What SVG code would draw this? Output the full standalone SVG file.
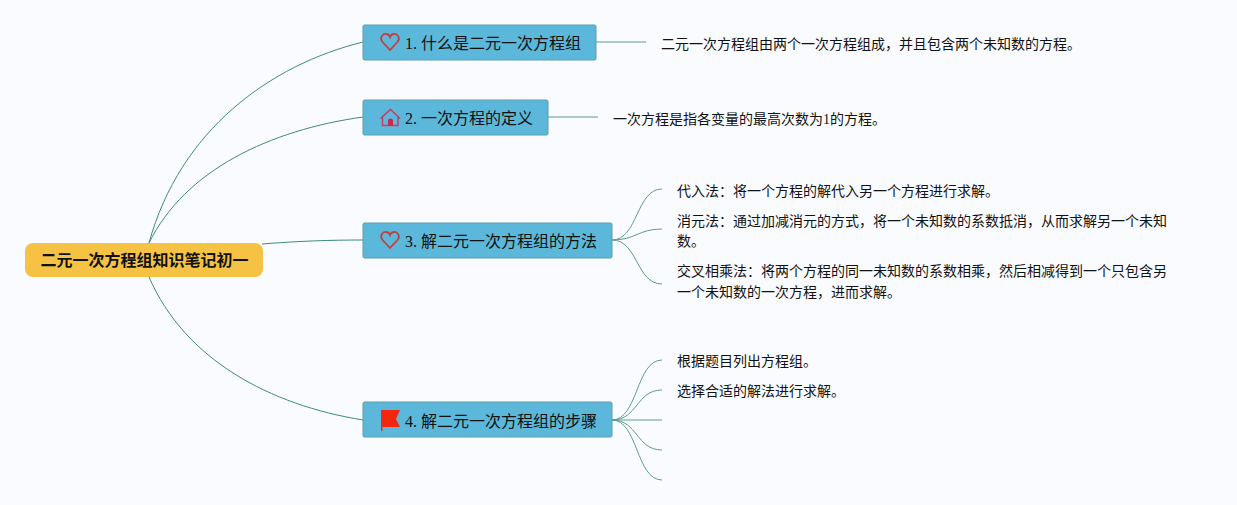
<svg xmlns="http://www.w3.org/2000/svg" width="1237" height="505" viewBox="0 0 1237 505">
<style>
text{font-family:"Liberation Serif","Noto Sans CJK SC",serif;fill:#111}
.root{font-size:16px;font-weight:700}
.branch{font-size:16px}
.leaf{font-size:14px}
.box{fill:#5cb8da;stroke:#5f9ea6;stroke-width:1}
.c{fill:none;stroke:#3f8a7c;stroke-width:1}
.l{fill:none;stroke:#5f9c90;stroke-width:1}
.heart{fill:none;stroke:#c23f3f;stroke-width:1.8}
</style>
<rect width="1237" height="505" fill="#f9fbff"/>
<g id="connectors">
<path class="c" d="M149 243C180 130 270 65 363 42"/>
<path class="c" d="M149 243C185 170 270 130 363 117"/>
<path class="c" d="M262 244C300 241 330 240 363 240"/>
<path class="c" d="M149 277C185 360 270 405 363 420"/>
<path class="l" d="M596 42H646"/>
<path class="l" d="M548 117H598"/>
<path class="l" d="M612 240C638 240 636 189 662 189"/>
<path class="l" d="M612 240C636 240 638 229 662 229"/>
<path class="l" d="M612 240C638 240 636 284 662 284"/>
<path class="l" d="M612 420C638 420 636 360 662 360"/>
<path class="l" d="M612 420C638 420 636 390 662 390"/>
<path class="l" d="M612 420H662"/>
<path class="l" d="M612 420C638 420 636 450 662 450"/>
<path class="l" d="M612 420C638 420 636 480 662 480"/>
</g>
<g id="root">
<rect x="25" y="243" width="238" height="34" rx="8" fill="#f6c244"/>
<text class="root" x="40.500" y="266">二元一次方程组知识笔记初一</text>
</g>
<g id="node1">
<rect class="box" x="363" y="25" width="233" height="35" rx="1.500"/>
<path class="heart" d="M390 50L382.500 42C379 37.500 383 33.500 386 34C388 34.200 389.500 35.500 390 37C390.500 35.500 392 34.200 394 34C397 33.500 401 37.500 397.500 42Z"/>
<text class="branch" x="405" y="49">1. 什么是二元一次方程组</text>
</g>
<g id="node2">
<rect class="box" x="363" y="100" width="185" height="35" rx="1.500"/>
<path d="M382.500 125.500V116.500L390.500 109.500L398 116.500V125.500H382.500ZM380.500 118.500L390.500 109.500L400 118.500" fill="none" stroke="#c93b63" stroke-width="1.500"/>
<path d="M388 125.500V121a2.500 2.500 0 0 1 5 0V125.500Z" fill="#d0254f"/>
<text class="branch" x="405" y="124">2. 一次方程的定义</text>
</g>
<g id="node3">
<rect class="box" x="363" y="223" width="249" height="35" rx="1.500"/>
<path class="heart" d="M390 248L382.500 240C379 235.500 383 231.500 386 232C388 232.200 389.500 233.500 390 235C390.500 233.500 392 232.200 394 232C397 231.500 401 235.500 397.500 240Z"/>
<text class="branch" x="405" y="247">3. 解二元一次方程组的方法</text>
</g>
<g id="node4">
<rect class="box" x="363" y="402" width="249" height="35" rx="1.500"/>
<path d="M381 410H400L396 419L400 427H382.500V431H381Z" fill="#f5260f"/>
<text class="branch" x="405" y="427">4. 解二元一次方程组的步骤</text>
</g>
<g id="leaf1"><text class="leaf" x="661" y="49">二元一次方程组由两个一次方程组成，并且包含两个未知数的方程。</text></g>
<g id="leaf2"><text class="leaf" x="613" y="124">一次方程是指各变量的最高次数为1的方程。</text></g>
<g id="leaf3"><text class="leaf" x="677" y="196">代入法：将一个方程的解代入另一个方程进行求解。</text></g>
<g id="leaf4"><text class="leaf" x="677" y="226">消元法：通过加减消元的方式，将一个未知数的系数抵消，从而求解另一个未知</text><text class="leaf" x="677" y="246">数。</text></g>
<g id="leaf5"><text class="leaf" x="677" y="276">交叉相乘法：将两个方程的同一未知数的系数相乘，然后相减得到一个只包含另</text><text class="leaf" x="677" y="297">一个未知数的一次方程，进而求解。</text></g>
<g id="leaf6"><text class="leaf" x="677" y="366">根据题目列出方程组。</text></g>
<g id="leaf7"><text class="leaf" x="677" y="396">选择合适的解法进行求解。</text></g>
</svg>
